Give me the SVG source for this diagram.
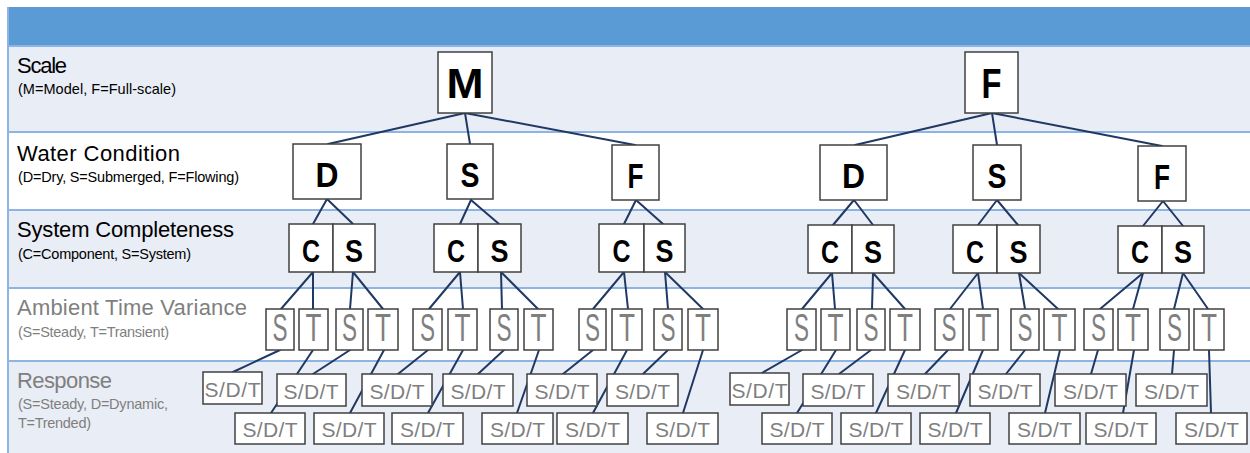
<svg xmlns="http://www.w3.org/2000/svg" width="1250" height="453" viewBox="0 0 1250 453">
<style>
.bandL{fill:#E9EDF5}
.bandW{fill:#FFFFFF}
.sep{stroke:#8EB4E3;stroke-width:2}
.box{fill:#FFFFFF;stroke:#404040;stroke-width:1.5}
#connectors line{stroke:#203864;stroke-width:2;stroke-linecap:round}
.lbl{font-family:"Liberation Sans",Arial,sans-serif;font-size:22px;fill:#000}
.sub{font-family:"Liberation Sans",Arial,sans-serif;font-size:14.5px;fill:#000}
.g{fill:#7F7F7F}
.big{font-family:"Liberation Sans",Arial,sans-serif;font-weight:bold;fill:#000;text-anchor:middle}
.amb{font-family:"Liberation Sans",Arial,sans-serif;font-size:38px;fill:#7F7F7F;text-anchor:middle}
.rsp{font-family:"Liberation Sans",Arial,sans-serif;font-size:21px;fill:#7F7F7F;text-anchor:middle}
</style>
<rect x="0" y="0" width="1250" height="453" fill="#FFFFFF"/>
<g id="background">
<rect x="8" y="7" width="1242" height="39" fill="#5B9BD5"/>
<rect class="bandL" x="8" y="46" width="1242" height="86"/>
<rect class="bandW" x="8" y="132" width="1242" height="78"/>
<rect class="bandL" x="8" y="210" width="1242" height="78"/>
<rect class="bandW" x="8" y="288" width="1242" height="73"/>
<rect class="bandL" x="8" y="361" width="1242" height="92"/>
<line class="sep" x1="8" y1="46" x2="1250" y2="46"/>
<line class="sep" x1="8" y1="132" x2="1250" y2="132"/>
<line class="sep" x1="8" y1="210" x2="1250" y2="210"/>
<line class="sep" x1="8" y1="288" x2="1250" y2="288"/>
<line class="sep" x1="8" y1="361" x2="1250" y2="361"/>
<line class="sep" x1="8" y1="7" x2="8" y2="453"/>
</g>
<g id="row-labels">
<text class="lbl" x="17" y="73" textLength="50">Scale</text>
<text class="sub" x="18" y="94" textLength="158">(M=Model, F=Full-scale)</text>
<text class="lbl" x="17" y="161" textLength="163">Water Condition</text>
<text class="sub" x="18" y="182" textLength="221">(D=Dry, S=Submerged, F=Flowing)</text>
<text class="lbl" x="17" y="237" textLength="217">System Completeness</text>
<text class="sub" x="18" y="259" textLength="173">(C=Component, S=System)</text>
<text class="lbl g" x="17" y="315" textLength="230">Ambient Time Variance</text>
<text class="sub g" x="18" y="337" textLength="151">(S=Steady, T=Transient)</text>
<text class="lbl g" x="17" y="388" textLength="95">Response</text>
<text class="sub g" x="18" y="409" textLength="150">(S=Steady, D=Dynamic,</text>
<text class="sub g" x="18" y="428" textLength="73">T=Trended)</text>
</g>
<g id="connectors">
<line x1="465" y1="113" x2="328" y2="144"/>
<line x1="465" y1="113" x2="470" y2="144"/>
<line x1="465" y1="113" x2="635" y2="145"/>
<line x1="992" y1="113" x2="855" y2="145"/>
<line x1="992" y1="113" x2="997" y2="145"/>
<line x1="992" y1="113" x2="1162" y2="146"/>
<line x1="327" y1="199" x2="313" y2="224"/>
<line x1="327" y1="199" x2="353" y2="224"/>
<line x1="471" y1="200" x2="460" y2="224"/>
<line x1="471" y1="200" x2="499" y2="224"/>
<line x1="636" y1="200" x2="624" y2="224"/>
<line x1="636" y1="200" x2="663" y2="224"/>
<line x1="854" y1="200" x2="833" y2="225"/>
<line x1="854" y1="200" x2="873" y2="225"/>
<line x1="997" y1="200" x2="978" y2="225"/>
<line x1="997" y1="200" x2="1018" y2="225"/>
<line x1="1163" y1="201" x2="1143" y2="226"/>
<line x1="1163" y1="201" x2="1183" y2="226"/>
<line x1="313" y1="272" x2="281" y2="309"/>
<line x1="313" y1="272" x2="313" y2="309"/>
<line x1="353" y1="272" x2="350" y2="309"/>
<line x1="353" y1="272" x2="383" y2="309"/>
<line x1="460" y1="272" x2="429" y2="309"/>
<line x1="460" y1="272" x2="463" y2="309"/>
<line x1="501" y1="272" x2="502" y2="309"/>
<line x1="501" y1="272" x2="538" y2="309"/>
<line x1="624" y1="272" x2="593" y2="309"/>
<line x1="624" y1="272" x2="628" y2="309"/>
<line x1="665" y1="272" x2="668" y2="309"/>
<line x1="665" y1="272" x2="703" y2="309"/>
<line x1="832" y1="273" x2="802" y2="309"/>
<line x1="832" y1="273" x2="835" y2="309"/>
<line x1="873" y1="273" x2="872" y2="309"/>
<line x1="873" y1="273" x2="905" y2="309"/>
<line x1="978" y1="273" x2="950" y2="309"/>
<line x1="978" y1="273" x2="983" y2="309"/>
<line x1="1019" y1="273" x2="1025" y2="309"/>
<line x1="1019" y1="273" x2="1058" y2="309"/>
<line x1="1143" y1="273" x2="1100" y2="309"/>
<line x1="1143" y1="273" x2="1133" y2="309"/>
<line x1="1183" y1="273" x2="1174" y2="309"/>
<line x1="1183" y1="273" x2="1208" y2="309"/>
<line x1="280" y1="350" x2="233" y2="372"/>
<line x1="313" y1="350" x2="271" y2="413"/>
<line x1="350" y1="350" x2="313" y2="374"/>
<line x1="384" y1="350" x2="350" y2="413"/>
<line x1="428" y1="350" x2="398" y2="374"/>
<line x1="463" y1="350" x2="428" y2="413"/>
<line x1="504" y1="350" x2="478" y2="374"/>
<line x1="539" y1="350" x2="517" y2="413"/>
<line x1="593" y1="350" x2="563" y2="374"/>
<line x1="627" y1="350" x2="593" y2="413"/>
<line x1="668" y1="350" x2="643" y2="374"/>
<line x1="703" y1="350" x2="683" y2="413"/>
<line x1="802" y1="350" x2="762" y2="373"/>
<line x1="836" y1="350" x2="797" y2="413"/>
<line x1="871" y1="350" x2="839" y2="374"/>
<line x1="905" y1="350" x2="876" y2="413"/>
<line x1="948" y1="350" x2="925" y2="374"/>
<line x1="983" y1="350" x2="956" y2="413"/>
<line x1="1025" y1="350" x2="1006" y2="374"/>
<line x1="1060" y1="350" x2="1045" y2="413"/>
<line x1="1098" y1="350" x2="1091" y2="374"/>
<line x1="1134" y1="350" x2="1123" y2="413"/>
<line x1="1174" y1="350" x2="1172" y2="374"/>
<line x1="1209" y1="350" x2="1211" y2="413"/>
</g>
<g id="scale-M"><rect class="box" x="438" y="52" width="54" height="61"/><text class="big" x="465" y="98" font-size="42" textLength="37" lengthAdjust="spacingAndGlyphs">M</text></g>
<g id="scale-F"><rect class="box" x="965" y="52" width="53" height="61"/><text class="big" x="991.5" y="98" font-size="42" textLength="20" lengthAdjust="spacingAndGlyphs">F</text></g>
<g id="water-MD"><rect class="box" x="293" y="144" width="68" height="55"/><text class="big" x="327" y="187" font-size="35" textLength="23" lengthAdjust="spacingAndGlyphs">D</text></g>
<g id="water-MS"><rect class="box" x="447" y="144" width="46" height="55"/><text class="big" x="470" y="187" font-size="35" textLength="19" lengthAdjust="spacingAndGlyphs">S</text></g>
<g id="water-MF"><rect class="box" x="612" y="145" width="47" height="55"/><text class="big" x="635.5" y="188" font-size="35" textLength="16" lengthAdjust="spacingAndGlyphs">F</text></g>
<g id="water-FD"><rect class="box" x="820" y="145" width="67" height="55"/><text class="big" x="853.5" y="188" font-size="35" textLength="23" lengthAdjust="spacingAndGlyphs">D</text></g>
<g id="water-FS"><rect class="box" x="973" y="145" width="48" height="55"/><text class="big" x="997" y="188" font-size="35" textLength="19" lengthAdjust="spacingAndGlyphs">S</text></g>
<g id="water-FF"><rect class="box" x="1138" y="146" width="48" height="55"/><text class="big" x="1162" y="189" font-size="35" textLength="16" lengthAdjust="spacingAndGlyphs">F</text></g>
<g id="cs-MD"><rect class="box" x="289" y="224" width="44" height="48"/><rect class="box" x="333" y="224" width="42" height="48"/><text class="big" x="311" y="262" font-size="31" textLength="18" lengthAdjust="spacingAndGlyphs">C</text><text class="big" x="354" y="262" font-size="31" textLength="18" lengthAdjust="spacingAndGlyphs">S</text></g>
<g id="cs-MS"><rect class="box" x="434" y="224" width="44" height="48"/><rect class="box" x="478" y="224" width="43" height="48"/><text class="big" x="456" y="262" font-size="31" textLength="18" lengthAdjust="spacingAndGlyphs">C</text><text class="big" x="499.5" y="262" font-size="31" textLength="18" lengthAdjust="spacingAndGlyphs">S</text></g>
<g id="cs-MF"><rect class="box" x="599" y="224" width="45" height="48"/><rect class="box" x="644" y="224" width="41" height="48"/><text class="big" x="621.5" y="262" font-size="31" textLength="18" lengthAdjust="spacingAndGlyphs">C</text><text class="big" x="664.5" y="262" font-size="31" textLength="18" lengthAdjust="spacingAndGlyphs">S</text></g>
<g id="cs-FD"><rect class="box" x="808" y="225" width="44" height="48"/><rect class="box" x="852" y="225" width="42" height="48"/><text class="big" x="830" y="263" font-size="31" textLength="18" lengthAdjust="spacingAndGlyphs">C</text><text class="big" x="873" y="263" font-size="31" textLength="18" lengthAdjust="spacingAndGlyphs">S</text></g>
<g id="cs-FS"><rect class="box" x="953" y="225" width="44" height="48"/><rect class="box" x="997" y="225" width="43" height="48"/><text class="big" x="975" y="263" font-size="31" textLength="18" lengthAdjust="spacingAndGlyphs">C</text><text class="big" x="1018.5" y="263" font-size="31" textLength="18" lengthAdjust="spacingAndGlyphs">S</text></g>
<g id="cs-FF"><rect class="box" x="1118" y="226" width="44" height="47"/><rect class="box" x="1162" y="226" width="42" height="47"/><text class="big" x="1140" y="263" font-size="31" textLength="18" lengthAdjust="spacingAndGlyphs">C</text><text class="big" x="1183" y="263" font-size="31" textLength="18" lengthAdjust="spacingAndGlyphs">S</text></g>
<g id="amb-1"><rect class="box" x="266" y="309" width="28" height="41"/><text class="amb" x="280" y="341" textLength="15" lengthAdjust="spacingAndGlyphs">S</text></g>
<g id="amb-2"><rect class="box" x="299" y="309" width="29" height="41"/><text class="amb" x="313.5" y="341" textLength="16" lengthAdjust="spacingAndGlyphs">T</text></g>
<g id="amb-3"><rect class="box" x="336" y="309" width="27" height="41"/><text class="amb" x="349.5" y="341" textLength="15" lengthAdjust="spacingAndGlyphs">S</text></g>
<g id="amb-4"><rect class="box" x="368" y="309" width="30" height="41"/><text class="amb" x="383" y="341" textLength="16" lengthAdjust="spacingAndGlyphs">T</text></g>
<g id="amb-5"><rect class="box" x="413" y="309" width="29" height="41"/><text class="amb" x="427.5" y="341" textLength="15" lengthAdjust="spacingAndGlyphs">S</text></g>
<g id="amb-6"><rect class="box" x="448" y="309" width="29" height="41"/><text class="amb" x="462.5" y="341" textLength="16" lengthAdjust="spacingAndGlyphs">T</text></g>
<g id="amb-7"><rect class="box" x="490" y="309" width="28" height="41"/><text class="amb" x="504" y="341" textLength="15" lengthAdjust="spacingAndGlyphs">S</text></g>
<g id="amb-8"><rect class="box" x="524" y="309" width="29" height="41"/><text class="amb" x="538.5" y="341" textLength="16" lengthAdjust="spacingAndGlyphs">T</text></g>
<g id="amb-9"><rect class="box" x="579" y="309" width="27" height="41"/><text class="amb" x="592.5" y="341" textLength="15" lengthAdjust="spacingAndGlyphs">S</text></g>
<g id="amb-10"><rect class="box" x="612" y="309" width="30" height="41"/><text class="amb" x="627" y="341" textLength="16" lengthAdjust="spacingAndGlyphs">T</text></g>
<g id="amb-11"><rect class="box" x="654" y="309" width="28" height="41"/><text class="amb" x="668" y="341" textLength="15" lengthAdjust="spacingAndGlyphs">S</text></g>
<g id="amb-12"><rect class="box" x="688" y="309" width="30" height="41"/><text class="amb" x="703" y="341" textLength="16" lengthAdjust="spacingAndGlyphs">T</text></g>
<g id="amb-13"><rect class="box" x="787" y="309" width="29" height="41"/><text class="amb" x="801.5" y="341" textLength="15" lengthAdjust="spacingAndGlyphs">S</text></g>
<g id="amb-14"><rect class="box" x="821" y="309" width="29" height="41"/><text class="amb" x="835.5" y="341" textLength="16" lengthAdjust="spacingAndGlyphs">T</text></g>
<g id="amb-15"><rect class="box" x="857" y="309" width="28" height="41"/><text class="amb" x="871" y="341" textLength="15" lengthAdjust="spacingAndGlyphs">S</text></g>
<g id="amb-16"><rect class="box" x="890" y="309" width="30" height="41"/><text class="amb" x="905" y="341" textLength="16" lengthAdjust="spacingAndGlyphs">T</text></g>
<g id="amb-17"><rect class="box" x="935" y="309" width="28" height="41"/><text class="amb" x="949" y="341" textLength="15" lengthAdjust="spacingAndGlyphs">S</text></g>
<g id="amb-18"><rect class="box" x="969" y="309" width="29" height="41"/><text class="amb" x="983.5" y="341" textLength="16" lengthAdjust="spacingAndGlyphs">T</text></g>
<g id="amb-19"><rect class="box" x="1011" y="309" width="28" height="41"/><text class="amb" x="1025" y="341" textLength="15" lengthAdjust="spacingAndGlyphs">S</text></g>
<g id="amb-20"><rect class="box" x="1044" y="309" width="31" height="41"/><text class="amb" x="1059.5" y="341" textLength="16" lengthAdjust="spacingAndGlyphs">T</text></g>
<g id="amb-21"><rect class="box" x="1084" y="309" width="29" height="41"/><text class="amb" x="1098.5" y="341" textLength="15" lengthAdjust="spacingAndGlyphs">S</text></g>
<g id="amb-22"><rect class="box" x="1118" y="309" width="30" height="41"/><text class="amb" x="1133" y="341" textLength="16" lengthAdjust="spacingAndGlyphs">T</text></g>
<g id="amb-23"><rect class="box" x="1160" y="309" width="29" height="41"/><text class="amb" x="1174.5" y="341" textLength="15" lengthAdjust="spacingAndGlyphs">S</text></g>
<g id="amb-24"><rect class="box" x="1194" y="309" width="30" height="41"/><text class="amb" x="1209" y="341" textLength="16" lengthAdjust="spacingAndGlyphs">T</text></g>
<g id="rsp-u1"><rect class="box" x="203" y="372" width="59" height="32"/><text class="rsp" x="232.5" y="397" textLength="56">S/D/T</text></g>
<g id="rsp-u2"><rect class="box" x="277" y="374" width="69" height="32"/><text class="rsp" x="311" y="399" textLength="55">S/D/T</text></g>
<g id="rsp-u3"><rect class="box" x="362" y="374" width="70" height="32"/><text class="rsp" x="397" y="399" textLength="55">S/D/T</text></g>
<g id="rsp-u4"><rect class="box" x="443" y="374" width="70" height="32"/><text class="rsp" x="478" y="399" textLength="55">S/D/T</text></g>
<g id="rsp-u5"><rect class="box" x="527" y="374" width="70" height="32"/><text class="rsp" x="562" y="399" textLength="55">S/D/T</text></g>
<g id="rsp-u6"><rect class="box" x="607" y="374" width="71" height="32"/><text class="rsp" x="642.5" y="399" textLength="55">S/D/T</text></g>
<g id="rsp-l1"><rect class="box" x="235" y="413" width="70" height="31"/><text class="rsp" x="270" y="437" textLength="55">S/D/T</text></g>
<g id="rsp-l2"><rect class="box" x="314" y="413" width="70" height="31"/><text class="rsp" x="349" y="437" textLength="55">S/D/T</text></g>
<g id="rsp-l3"><rect class="box" x="392" y="413" width="71" height="31"/><text class="rsp" x="427.5" y="437" textLength="55">S/D/T</text></g>
<g id="rsp-l4"><rect class="box" x="482" y="413" width="71" height="31"/><text class="rsp" x="517.5" y="437" textLength="55">S/D/T</text></g>
<g id="rsp-l5"><rect class="box" x="557" y="413" width="71" height="31"/><text class="rsp" x="592.5" y="437" textLength="55">S/D/T</text></g>
<g id="rsp-l6"><rect class="box" x="647" y="413" width="71" height="31"/><text class="rsp" x="682.5" y="437" textLength="55">S/D/T</text></g>
<g id="rsp-u7"><rect class="box" x="730" y="373" width="59" height="32"/><text class="rsp" x="759.5" y="398" textLength="56">S/D/T</text></g>
<g id="rsp-u8"><rect class="box" x="803" y="374" width="70" height="32"/><text class="rsp" x="838" y="399" textLength="55">S/D/T</text></g>
<g id="rsp-u9"><rect class="box" x="888" y="374" width="71" height="32"/><text class="rsp" x="923.5" y="399" textLength="55">S/D/T</text></g>
<g id="rsp-u10"><rect class="box" x="970" y="374" width="70" height="32"/><text class="rsp" x="1005" y="399" textLength="55">S/D/T</text></g>
<g id="rsp-u11"><rect class="box" x="1055" y="374" width="71" height="32"/><text class="rsp" x="1090.5" y="399" textLength="55">S/D/T</text></g>
<g id="rsp-u12"><rect class="box" x="1136" y="374" width="71" height="32"/><text class="rsp" x="1171.5" y="399" textLength="55">S/D/T</text></g>
<g id="rsp-l7"><rect class="box" x="762" y="413" width="70" height="31"/><text class="rsp" x="797" y="437" textLength="55">S/D/T</text></g>
<g id="rsp-l8"><rect class="box" x="841" y="413" width="70" height="31"/><text class="rsp" x="876" y="437" textLength="55">S/D/T</text></g>
<g id="rsp-l9"><rect class="box" x="920" y="413" width="70" height="31"/><text class="rsp" x="955" y="437" textLength="55">S/D/T</text></g>
<g id="rsp-l10"><rect class="box" x="1009" y="413" width="71" height="31"/><text class="rsp" x="1044.5" y="437" textLength="55">S/D/T</text></g>
<g id="rsp-l11"><rect class="box" x="1086" y="413" width="70" height="31"/><text class="rsp" x="1121" y="437" textLength="55">S/D/T</text></g>
<g id="rsp-l12"><rect class="box" x="1176" y="413" width="71" height="31"/><text class="rsp" x="1211.5" y="437" textLength="55">S/D/T</text></g>
</svg>
